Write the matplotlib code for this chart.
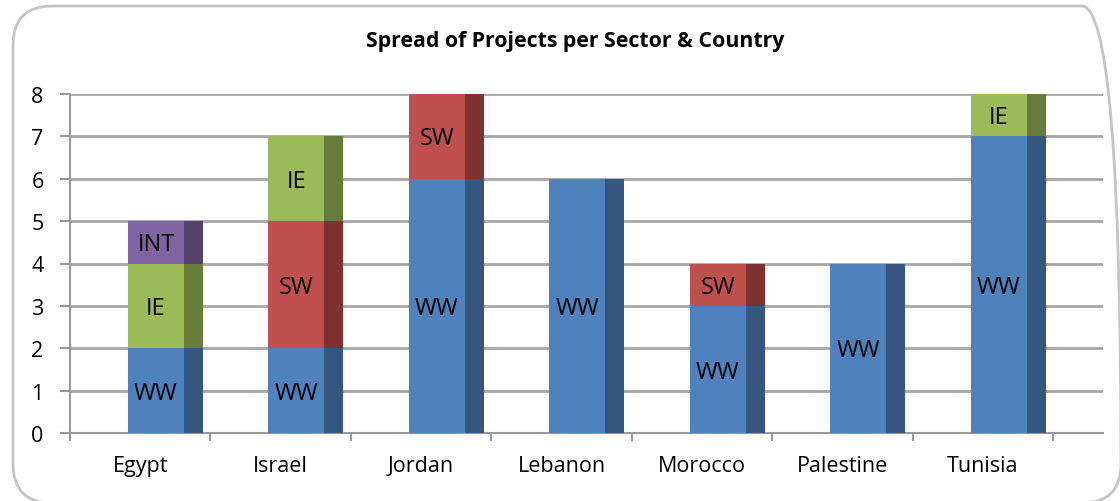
import numpy as np
import matplotlib.pyplot as plt
from matplotlib.patches import FancyBboxPatch

# data
countries = ["Egypt", "Israel", "Jordan", "Lebanon", "Morocco", "Palestine", "Tunisia"]
sectors = ["WW", "SW", "IE", "INT"]
ww = [2, 2, 6, 6, 3, 4, 7]
sw = [0, 3, 2, 0, 1, 0, 0]
ie = [2, 2, 0, 0, 0, 0, 1]
intl = [1, 0, 0, 0, 0, 0, 0]

# stacking order per bar (bottom to top)
order = {
    "Egypt": ["WW", "IE", "INT"],
    "Israel": ["WW", "SW", "IE"],
    "Jordan": ["WW", "SW"],
    "Lebanon": ["WW"],
    "Morocco": ["WW", "SW"],
    "Palestine": ["WW"],
    "Tunisia": ["WW", "IE"],
}
vals = {"WW": ww, "SW": sw, "IE": ie, "INT": intl}
front = {"WW": "#4F81BD", "SW": "#C0504D", "IE": "#9BBB59", "INT": "#8064A2"}
side = {"WW": "#34567F", "SW": "#7E3230", "IE": "#677C3A", "INT": "#54426C"}

plt.rcParams['font.family'] = ['Open Sans', 'DejaVu Sans']

fig = plt.figure(figsize=(11.2, 5.02), dpi=100)
border = FancyBboxPatch((13/1120, -2/502), 1108/1120, 497/502,
                        boxstyle="round,pad=0,rounding_size=0.035",
                        transform=fig.transFigure, fc="none", ec="#C4C4C4", lw=2,
                        mutation_aspect=1120/502, zorder=-1)
fig.patches.append(border)

ax = fig.add_axes([70/1120, 68/502, 1033/1120, 339/502])
ax.set_facecolor("none")

x = np.arange(len(countries))
fw = 0.399
sw_w = 0.135
off = -0.087
for i, c in enumerate(countries):
    bottom = 0
    for s in order[c]:
        v = vals[s][i]
        if v == 0:
            continue
        ax.bar(x[i] + off, v, width=fw, bottom=bottom, align="edge", color=front[s], zorder=3)
        ax.bar(x[i] + off + fw, v, width=sw_w, bottom=bottom, align="edge", color=side[s], zorder=3)
        ax.text(x[i] + off + fw / 2, bottom + v / 2 - 0.05, s, ha="center", va="center",
                fontsize=17, color="black", zorder=4)
        bottom += v

ax.set_xlim(-0.5, 6.856)
ax.set_ylim(0, 8)
ax.set_yticks(range(0, 9))
ax.yaxis.grid(True, color="#A6A6A6", lw=2, zorder=0)
ax.set_xticks(x)
ax.set_xticklabels(countries, fontsize=15.5)
ax.set_xticks(np.arange(-0.5, len(countries)), minor=True)
ax.tick_params(axis="x", which="major", length=0, pad=16)
ax.tick_params(axis="x", which="minor", length=6, width=1.5, color="#999999")
ax.tick_params(axis="y", length=7, width=1.5, color="#999999", labelsize=15.5, pad=12)
for sp in ["top", "right"]:
    ax.spines[sp].set_visible(False)
for sp in ["left", "bottom"]:
    ax.spines[sp].set_color("#999999")
    ax.spines[sp].set_linewidth(1.5)

fig.text(575/1120, 1 - 42/502, "Spread of Projects per Sector & Country", ha="center", va="center",
         fontsize=15.3, fontweight="bold")

fig.savefig("out.png", dpi=100)
